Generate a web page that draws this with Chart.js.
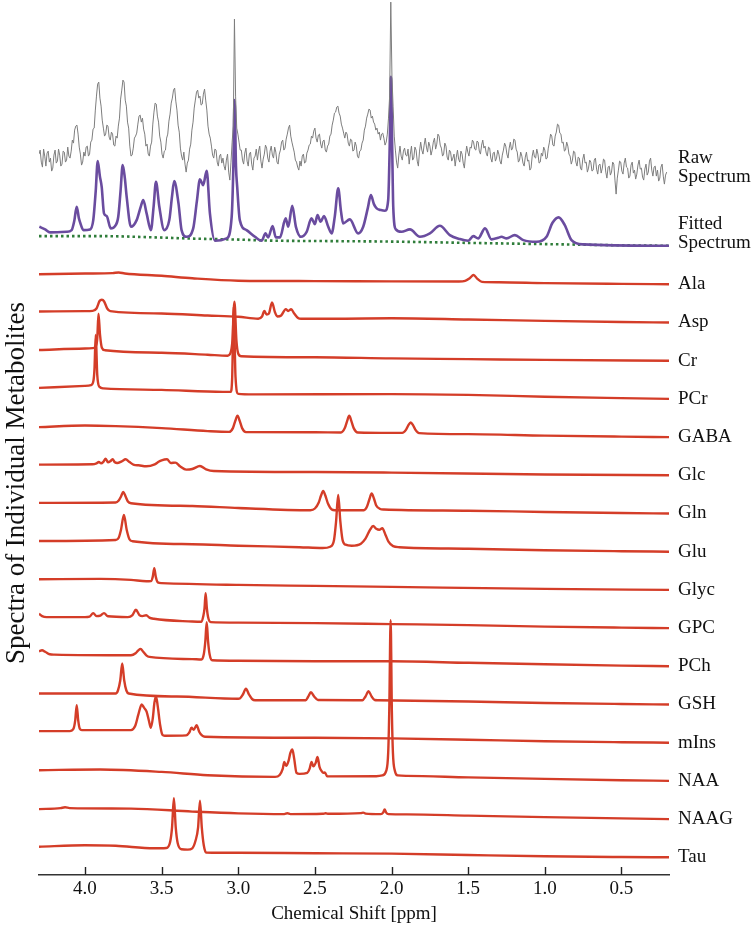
<!DOCTYPE html>
<html>
<head>
<meta charset="utf-8">
<title>Spectra of Individual Metabolites</title>
<script src="https://cdn.jsdelivr.net/npm/chart.js@4.4.1/dist/chart.umd.min.js"></script>
<style>
  html, body { margin: 0; padding: 0; background: #fff; }
  #wrap { width: 751px; height: 925px; }
</style>
</head>
<body>
<div id="wrap"><canvas id="chart" width="751" height="925"></canvas></div>
<script>
// intensities are in arbitrary units, measured from each trace's own baseline
// pairs are [ppm, intensity]

// raw spectrum, sampled every 0.0075 ppm starting at 4.30 ppm
const rawStart = 4.3
const rawStep = 0.0075
const rawValues = [
  92, 96, 84, 79, 97, 90, 80, 93, 95, 84, 88, 75, 78, 91, 96, 83, 85, 97, 91, 80,
  82, 95, 94, 84, 86, 99, 90, 88, 95, 106, 103, 116, 120, 121, 112, 99, 92, 81, 84, 94,
  90, 99, 100, 90, 92, 104, 106, 117, 118, 136, 150, 162, 164, 148, 140, 126, 118, 110, 112, 121,
  120, 109, 106, 114, 112, 101, 100, 110, 108, 120, 128, 147, 156, 166, 164, 146, 140, 124, 118, 100,
  90, 91, 98, 108, 110, 113, 122, 130, 131, 124, 128, 117, 112, 100, 102, 92, 90, 100, 104, 122,
  134, 143, 142, 130, 124, 110, 104, 92, 88, 95, 96, 108, 112, 125, 132, 143, 148, 156, 158, 145,
  136, 121, 114, 98, 90, 86, 94, 82, 74, 83, 86, 97, 102, 116, 124, 138, 146, 154, 156, 148,
  150, 141, 142, 152, 157, 146, 136, 120, 112, 108, 100, 91, 88, 97, 96, 84, 80, 90, 92, 83,
  88, 80, 76, 86, 92, 74, 66, 84, 104, 120, 227, 150, 118, 112, 104, 96, 96, 86, 82, 93,
  98, 85, 80, 92, 94, 82, 76, 88, 90, 97, 86, 95, 100, 85, 78, 87, 92, 101, 98, 88,
  84, 95, 100, 91, 88, 99, 94, 84, 82, 92, 96, 104, 106, 96, 98, 107, 112, 118, 121, 110,
  104, 99, 94, 86, 84, 79, 76, 85, 80, 90, 92, 83, 84, 93, 96, 101, 102, 110, 108, 115,
  118, 108, 104, 111, 112, 102, 98, 105, 106, 96, 94, 100, 102, 110, 112, 121, 126, 133, 134, 139,
  140, 133, 130, 122, 118, 113, 108, 114, 112, 103, 100, 107, 106, 95, 96, 104, 100, 90, 88, 95,
  96, 103, 106, 116, 120, 128, 132, 137, 136, 128, 130, 124, 122, 116, 118, 112, 114, 106, 112, 113,
  108, 101, 104, 112, 128, 150, 244, 170, 140, 110, 96, 84, 78, 91, 100, 90, 86, 95, 98, 91,
  90, 97, 82, 92, 100, 86, 88, 99, 96, 85, 80, 95, 104, 96, 92, 101, 108, 99, 94, 104,
  100, 91, 96, 104, 108, 97, 102, 112, 110, 101, 98, 90, 92, 103, 100, 89, 86, 96, 94, 85,
  88, 92, 80, 89, 96, 87, 84, 95, 92, 83, 78, 91, 100, 94, 90, 99, 98, 106, 104, 97,
  96, 105, 104, 95, 92, 101, 106, 98, 100, 93, 90, 99, 98, 88, 84, 93, 94, 85, 88, 96,
  92, 85, 82, 91, 96, 103, 100, 92, 88, 98, 104, 96, 98, 107, 106, 97, 94, 84, 86, 94,
  90, 83, 80, 89, 94, 85, 86, 76, 78, 90, 96, 89, 88, 97, 92, 83, 84, 93, 90, 99,
  96, 87, 88, 98, 104, 112, 110, 101, 100, 110, 114, 122, 121, 113, 112, 103, 104, 95, 96, 104,
  100, 92, 90, 82, 86, 95, 94, 84, 80, 89, 88, 78, 76, 87, 92, 83, 84, 74, 78, 86,
  84, 75, 76, 86, 88, 77, 72, 81, 82, 73, 78, 87, 86, 74, 68, 79, 80, 71, 74, 84,
  82, 66, 52, 68, 76, 85, 84, 75, 72, 83, 88, 79, 78, 68, 70, 81, 84, 73, 76, 67,
  72, 81, 86, 77, 78, 69, 66, 77, 82, 71, 74, 85, 88, 76, 70, 79, 80, 70, 76, 65,
  68, 79, 82, 70, 62, 71, 74
]

const fitted = [
  [4.298, 19.3], [4.26, 16.7], [4.228, 13.7], [4.12, 14.3], [4.087, 16], [4.07, 25], [4.054, 39.3],
  [4.04, 28], [4.033, 24.3], [4.01, 16], [3.967, 16.7], [3.946, 26], [3.93, 55], [3.917, 85],
  [3.903, 70], [3.891, 59.3], [3.876, 32.7], [3.858, 30], [3.832, 17.7], [3.804, 20], [3.783, 29.3],
  [3.768, 55], [3.754, 81], [3.74, 68], [3.728, 49.3], [3.70, 19.3], [3.663, 26], [3.635, 40],
  [3.62, 46], [3.598, 32.7], [3.57, 16], [3.552, 40], [3.537, 64.3], [3.515, 39.3], [3.483, 16],
  [3.45, 26], [3.432, 50], [3.418, 65], [3.39, 42.7], [3.37, 16], [3.337, 9.3], [3.294, 17.7],
  [3.27, 45], [3.25, 66.7], [3.229, 61], [3.206, 75.3], [3.185, 32.7], [3.152, 5.3], [3.076, 7.7],
  [3.043, 29.3], [3.032, 80], [3.024, 146], [3.015, 80], [3.007, 59.3], [2.99, 26], [2.946, 16],
  [2.891, 9.3], [2.848, 5.3], [2.822, 12.7], [2.805, 8.7], [2.776, 20], [2.755, 8.7], [2.728, 8.7],
  [2.691, 27.7], [2.674, 19.3], [2.648, 40.3], [2.624, 19.3], [2.591, 9.3], [2.554, 14.3],
  [2.522, 27.7], [2.50, 22], [2.483, 31], [2.463, 24.3], [2.441, 30], [2.413, 19.3], [2.391, 12.7],
  [2.37, 30], [2.348, 57.7], [2.33, 35], [2.316, 22.7], [2.272, 26.7], [2.218, 12.7], [2.185, 19.3],
  [2.155, 38], [2.135, 51], [2.115, 42], [2.097, 37.7], [2.07, 36], [2.043, 35.3], [2.022, 46],
  [2.012, 100], [2.004, 169.3], [1.996, 100], [1.989, 39.3], [1.972, 16.7], [1.935, 14.3],
  [1.88, 16.7], [1.815, 9.3], [1.75, 12.7], [1.685, 20.3], [1.62, 11], [1.555, 7], [1.50, 5.3],
  [1.467, 10], [1.435, 7.7], [1.39, 17.7], [1.348, 6.7], [1.304, 8.3], [1.283, 9.3], [1.25, 7.7],
  [1.196, 11], [1.14, 6], [1.054, 4.3], [0.989, 9.3], [0.95, 23.3], [0.91, 28.7], [0.87, 21],
  [0.826, 6], [0.75, 1.7], [0.19, 0.3]
]

const fitBaseline = [
  [4.3, 10], [3.9, 10], [3.6, 9], [3.3, 7.5], [3.0, 6.5], [2.8, 5.5], [2.4, 5], [2.0, 4.5],
  [1.5, 3.2], [1.0, 2], [0.5, 0.8], [0.19, 0.3]
]

const ala = [
  [4.3, 10], [4.0, 10.8], [3.82, 11.2], [3.78, 11.8], [3.74, 10.8], [3.5, 8.5], [3.3, 6], [3.0, 3.6],
  [2.5, 3.2], [2.0, 2.9], [1.56, 2.8], [1.52, 3.4], [1.49, 6], [1.465, 9.3], [1.44, 5.5], [1.41, 2.4],
  [1.3, 2.0], [1.0, 1.2], [0.5, 0.4], [0.19, 0]
]
const asp = [
  [4.3, 11], [4.0, 11.4], [3.95, 11.6], [3.925, 14], [3.905, 21.5], [3.89, 22.7], [3.875, 21],
  [3.855, 14], [3.835, 11.4], [3.5, 9], [3.2, 7], [3.0, 5.7], [2.87, 3.8], [2.845, 6], [2.83, 11.5],
  [2.815, 8], [2.8, 9], [2.78, 20], [2.76, 10], [2.745, 6], [2.72, 7], [2.69, 13.4], [2.675, 11.5],
  [2.655, 13.2], [2.635, 9], [2.61, 4.5], [2.59, 3.7], [2.3, 3.8], [2.0, 4.2], [1.5, 3], [1.0, 1.6],
  [0.5, 0.5], [0.19, 0]
]
const cr = [
  [4.3, 10.7], [4.0, 12.2], [3.95, 12.6], [3.93, 14.5], [3.92, 22], [3.912, 47], [3.902, 26],
  [3.89, 13], [3.87, 10.5], [3.5, 8], [3.2, 6], [3.07, 5], [3.05, 8], [3.038, 20], [3.025, 59],
  [3.012, 20], [3.0, 7], [2.98, 4.5], [2.5, 3.5], [2.0, 2.3], [1.5, 1.6], [1.0, 0.8], [0.19, 0]
]
const pcr = [
  [4.3, 11], [4.0, 13], [3.96, 13.8], [3.945, 18], [3.938, 30], [3.93, 64], [3.92, 24], [3.905, 12],
  [3.88, 10.5], [3.5, 9], [3.1, 7], [3.05, 7], [3.04, 20], [3.03, 92], [3.018, 22], [3.0, 5],
  [2.9, 4.5], [2.0, 4.8], [1.5, 4], [1.0, 2.2], [0.5, 0.8], [0.19, 0]
]
const gaba = [
  [4.3, 10], [4.0, 11.6], [3.8, 11], [3.5, 9], [3.2, 6], [3.06, 5.2], [3.035, 9], [3.02, 16],
  [3.005, 21.3], [2.99, 16], [2.975, 9], [2.95, 5], [2.5, 4.8], [2.33, 4.6], [2.305, 9], [2.29, 16],
  [2.276, 21.3], [2.262, 16], [2.247, 9], [2.22, 4.6], [2.0, 4.2], [1.93, 4.2], [1.905, 7.5],
  [1.89, 12], [1.875, 14.6], [1.86, 12], [1.845, 7.5], [1.82, 4], [1.5, 3], [1.0, 1.5], [0.5, 0.5],
  [0.19, 0]
]
const glc = [
  [4.3, 10.7], [3.95, 11], [3.925, 12], [3.91, 13.3], [3.895, 12], [3.88, 13.5], [3.865, 16.7],
  [3.85, 13], [3.835, 14], [3.82, 16], [3.805, 13], [3.79, 12.3], [3.76, 14], [3.735, 16],
  [3.71, 13.3], [3.68, 10.5], [3.65, 10], [3.6, 9], [3.545, 11], [3.52, 13.5], [3.5, 15],
  [3.465, 16], [3.44, 12.3], [3.41, 12.7], [3.38, 9], [3.34, 5.7], [3.3, 6.3], [3.25, 9.3],
  [3.21, 6], [3.16, 4.3], [2.5, 3.3], [2.0, 2.7], [1.0, 0.8], [0.19, 0]
]
const gln = [
  [4.3, 10.6], [3.8, 11], [3.78, 13], [3.765, 17], [3.75, 21.6], [3.735, 17], [3.72, 12], [3.7, 10.3],
  [3.3, 7.5], [3.0, 5.5], [2.53, 3.3], [2.5, 5], [2.475, 11], [2.46, 18], [2.446, 22.6], [2.432, 18],
  [2.415, 10], [2.39, 4], [2.37, 3.3], [2.18, 3.3], [2.16, 7], [2.145, 14], [2.13, 20], [2.115, 15],
  [2.1, 8], [2.075, 4.5], [2.05, 4], [1.5, 2.8], [1.0, 1.5], [0.5, 0.5], [0.19, 0]
]
const glu = [
  [4.3, 10.7], [3.8, 11.7], [3.78, 14], [3.765, 22], [3.746, 36.7], [3.728, 22], [3.71, 12.5],
  [3.69, 10.5], [3.3, 7.5], [3.0, 6], [2.6, 4.5], [2.45, 3.7], [2.40, 5], [2.375, 12], [2.362, 30],
  [2.348, 56.7], [2.334, 30], [2.32, 12], [2.3, 7], [2.26, 6], [2.2, 8], [2.17, 13], [2.14, 22],
  [2.12, 25.7], [2.1, 23], [2.08, 22], [2.06, 23.5], [2.04, 17], [2.02, 10], [1.99, 5.5],
  [1.95, 4.5], [1.5, 3], [1.0, 1.5], [0.5, 0.5], [0.19, 0]
]
const glyc = [
  [4.3, 10.7], [3.9, 11], [3.7, 10], [3.6, 8.6], [3.57, 8.8], [3.558, 13], [3.548, 21.7],
  [3.538, 13], [3.525, 7.5], [3.5, 6.8], [3.0, 5], [2.5, 4], [2.0, 3], [1.0, 1], [0.19, 0]
]
const gpc = [
  [4.3, 14.3], [4.28, 12], [4.25, 11], [4.0, 11], [3.97, 11.5], [3.946, 15], [3.925, 12], [3.9, 12.5],
  [3.876, 15], [3.85, 11.8], [3.72, 11], [3.69, 13], [3.668, 18.3], [3.645, 13], [3.625, 12],
  [3.6, 12.8], [3.58, 10.5], [3.55, 9.3], [3.3, 6.6], [3.24, 6.3], [3.228, 12], [3.22, 20],
  [3.213, 35], [3.205, 20], [3.197, 11], [3.18, 6], [3.0, 5.5], [2.5, 5], [2.0, 4], [1.5, 3],
  [1.0, 1.5], [0.5, 0.5], [0.19, 0]
]
const pch = [
  [4.3, 15], [4.28, 16], [4.26, 14.5], [4.23, 12], [4.2, 11.7], [3.7, 11], [3.67, 13], [3.652, 16],
  [3.637, 17.4], [3.62, 14.5], [3.6, 11], [3.58, 9.4], [3.3, 7.2], [3.24, 6.8], [3.225, 12],
  [3.215, 25], [3.206, 44], [3.197, 25], [3.187, 12], [3.17, 6], [3.0, 5.5], [2.5, 5], [2.0, 5],
  [1.5, 3.5], [1.0, 2], [0.5, 0.7], [0.19, 0]
]
const gsh = [
  [4.3, 11], [3.8, 11], [3.785, 14], [3.77, 24], [3.757, 41], [3.744, 24], [3.73, 14], [3.715, 11],
  [3.4, 8], [3.0, 5.7], [2.99, 6], [2.97, 10], [2.95, 15.7], [2.93, 10], [2.91, 5.5], [2.89, 4.3],
  [2.56, 4.3], [2.545, 7.5], [2.526, 12.3], [2.505, 8], [2.48, 4.5], [2.19, 4.3], [2.17, 8],
  [2.15, 13.3], [2.13, 8], [2.11, 4.5], [2.09, 4.3], [1.5, 3], [1.0, 1.5], [0.5, 0.5], [0.19, 0]
]
const mIns = [
  [4.3, 11.6], [4.1, 11.6], [4.075, 14], [4.064, 22], [4.054, 37.6], [4.044, 22], [4.034, 14],
  [4.02, 12.6], [3.7, 12.6], [3.672, 17], [3.652, 28], [3.63, 38.3], [3.615, 35], [3.598, 31],
  [3.583, 22], [3.57, 15], [3.558, 24], [3.547, 40], [3.537, 46.6], [3.525, 36], [3.51, 18],
  [3.495, 8], [3.48, 7], [3.34, 7.3], [3.32, 10], [3.305, 15], [3.29, 13], [3.272, 17.6],
  [3.255, 11], [3.235, 7], [3.217, 6], [2.5, 5], [2.0, 4.3], [1.5, 3], [1.0, 1.5], [0.5, 0.5],
  [0.19, 0]
]
const naa = [
  [4.3, 10.7], [3.9, 11.4], [3.5, 9], [3.2, 5.7], [2.76, 4], [2.73, 6], [2.71, 12], [2.70, 19],
  [2.688, 15], [2.672, 20], [2.66, 28], [2.647, 31.4], [2.635, 22], [2.62, 8], [2.6, 7], [2.55, 8],
  [2.535, 12], [2.522, 19], [2.51, 14.5], [2.495, 18], [2.483, 24], [2.47, 14], [2.457, 10],
  [2.445, 8], [2.435, 8.5], [2.42, 4.5], [2.1, 4.7], [2.06, 5.5], [2.035, 10], [2.022, 28],
  [2.015, 70], [2.006, 160.7], [1.998, 70], [1.991, 28], [1.978, 10], [1.96, 5.5], [1.9, 5],
  [1.5, 3.5], [1.0, 2], [0.5, 0.7], [0.19, 0]
]
const naag = [
  [4.3, 10], [4.16, 11], [4.13, 11.8], [4.1, 11], [3.7, 10.5], [3.3, 7.5], [3.0, 5.7], [2.7, 5],
  [2.68, 5.8], [2.66, 5], [2.45, 5.3], [2.43, 5.8], [2.41, 5.3], [2.2, 6], [2.185, 6.5], [2.17, 5.5],
  [2.07, 5], [2.055, 6.5], [2.045, 9.7], [2.035, 6.5], [2.02, 5], [1.9, 4.7], [1.5, 3.5], [1.0, 2],
  [0.5, 0.7], [0.19, 0]
]
const tau = [
  [4.3, 10.6], [4.0, 12], [3.8, 11.5], [3.55, 9], [3.47, 9.3], [3.445, 15], [3.432, 30], [3.42, 59],
  [3.408, 30], [3.395, 14], [3.37, 8], [3.33, 7.7], [3.3, 9], [3.28, 16], [3.262, 30], [3.25, 56.6],
  [3.238, 30], [3.225, 12], [3.21, 4.8], [3.0, 4.5], [2.5, 4], [2.0, 3.7], [1.5, 2.3], [1.0, 1],
  [0.5, 0.3], [0.19, 0]
]

const metaboliteNames = ['Ala', 'Asp', 'Cr', 'PCr', 'GABA', 'Glc', 'Gln', 'Glu', 'Glyc', 'GPC', 'PCh', 'GSH', 'mIns', 'NAA', 'NAAG', 'Tau']
const metaboliteSpectra = [ala, asp, cr, pcr, gaba, glc, gln, glu, glyc, gpc, pch, gsh, mIns, naa, naag, tau]
const xTicks = [4.0, 3.5, 3.0, 2.5, 2.0, 1.5, 1.0, 0.5]

// vertical stacking of the traces
const STACK_STEP = 38.2
const STACK_BOTTOM = 17.7
const stackOffset = i => STACK_BOTTOM + (metaboliteNames.length - 1 - i) * STACK_STEP
const topOffset = STACK_BOTTOM + metaboliteNames.length * STACK_STEP

const SERIF = '"Liberation Serif", "Times New Roman", serif'
const RED = '#d43d28'

const shift = (pairs, off) => pairs.map(([x, y]) => ({x: x, y: y + off}))

const rawData = rawValues.map((v, i) => ({x: +(rawStart - i * rawStep).toFixed(4), y: v + topOffset}))

const datasets = [
  {
    label: 'Raw Spectrum',
    data: rawData,
    borderColor: '#7d7d7d',
    borderWidth: 1,
    tension: 0
  },
  {
    label: 'Fitted Spectrum',
    data: shift(fitted, topOffset),
    borderColor: '#6a4c9f',
    borderWidth: 2.6,
    cubicInterpolationMode: 'monotone'
  },
  {
    label: 'Baseline',
    data: shift(fitBaseline, topOffset),
    borderColor: '#2f7d3a',
    borderWidth: 2.6,
    borderDash: [2.5, 3],
    cubicInterpolationMode: 'monotone'
  }
]

metaboliteSpectra.forEach((spec, i) => {
  datasets.push({
    label: metaboliteNames[i],
    data: shift(spec, stackOffset(i)),
    borderColor: RED,
    borderWidth: 2.4,
    cubicInterpolationMode: 'monotone'
  })
})

// right-hand names, inward tick marks and the rotated y title
const decorations = {
  id: 'decorations',
  afterDraw(chart) {
    const {ctx, chartArea} = chart
    const x = chart.scales.x
    const y = chart.scales.y
    ctx.save()

    ctx.strokeStyle = '#222'
    ctx.lineWidth = 1.4
    x.ticks.forEach(t => {
      const px = Math.round(x.getPixelForValue(t.value)) + 0.5
      ctx.beginPath()
      ctx.moveTo(px, chartArea.bottom)
      ctx.lineTo(px, chartArea.bottom - 8)
      ctx.stroke()
    })

    ctx.fillStyle = '#111'
    ctx.font = '19px ' + SERIF
    ctx.textAlign = 'left'
    ctx.textBaseline = 'middle'
    const lx = chartArea.right + 9
    const twoLines = (a, b, value) => {
      const cy = y.getPixelForValue(value)
      ctx.fillText(a, lx, cy - 9.5)
      ctx.fillText(b, lx, cy + 9.5)
    }
    twoLines('Raw', 'Spectrum', topOffset + 78.5)
    twoLines('Fitted', 'Spectrum', topOffset + 12.5)
    metaboliteNames.forEach((name, i) => {
      ctx.fillText(name, lx, y.getPixelForValue(stackOffset(i)))
    })

    ctx.font = '27px ' + SERIF
    ctx.textAlign = 'center'
    ctx.textBaseline = 'alphabetic'
    ctx.translate(24, 483)
    ctx.rotate(-Math.PI / 2)
    ctx.fillText('Spectra of Individual Metabolites', 0, 0)

    ctx.restore()
  }
}

new Chart(document.getElementById('chart'), {
  type: 'line',
  data: {datasets: datasets},
  options: {
    responsive: false,
    animation: false,
    events: [],
    layout: {padding: {left: 39, right: 82, top: 0, bottom: 0}},
    elements: {point: {radius: 0}},
    plugins: {legend: {display: false}, tooltip: {enabled: false}},
    scales: {
      x: {
        type: 'linear',
        reverse: true,
        min: 0.19,
        max: 4.3,
        afterBuildTicks: scale => {
          scale.ticks = xTicks.map(v => ({value: v}))
        },
        ticks: {
          callback: v => Number(v).toFixed(1),
          color: '#111',
          font: {family: SERIF, size: 19, lineHeight: 1},
          padding: 4.5,
          maxRotation: 0,
          autoSkip: false
        },
        grid: {display: false, drawTicks: false},
        border: {display: true, color: '#333', width: 1.5},
        title: {
          display: true,
          text: 'Chemical Shift [ppm]',
          color: '#111',
          font: {family: SERIF, size: 19, lineHeight: 1},
          padding: {top: 1.5, bottom: 1.5}
        }
      },
      y: {
        type: 'linear',
        display: false,
        min: 0,
        max: 875
      }
    }
  },
  plugins: [decorations]
})
</script>
</body>
</html>
